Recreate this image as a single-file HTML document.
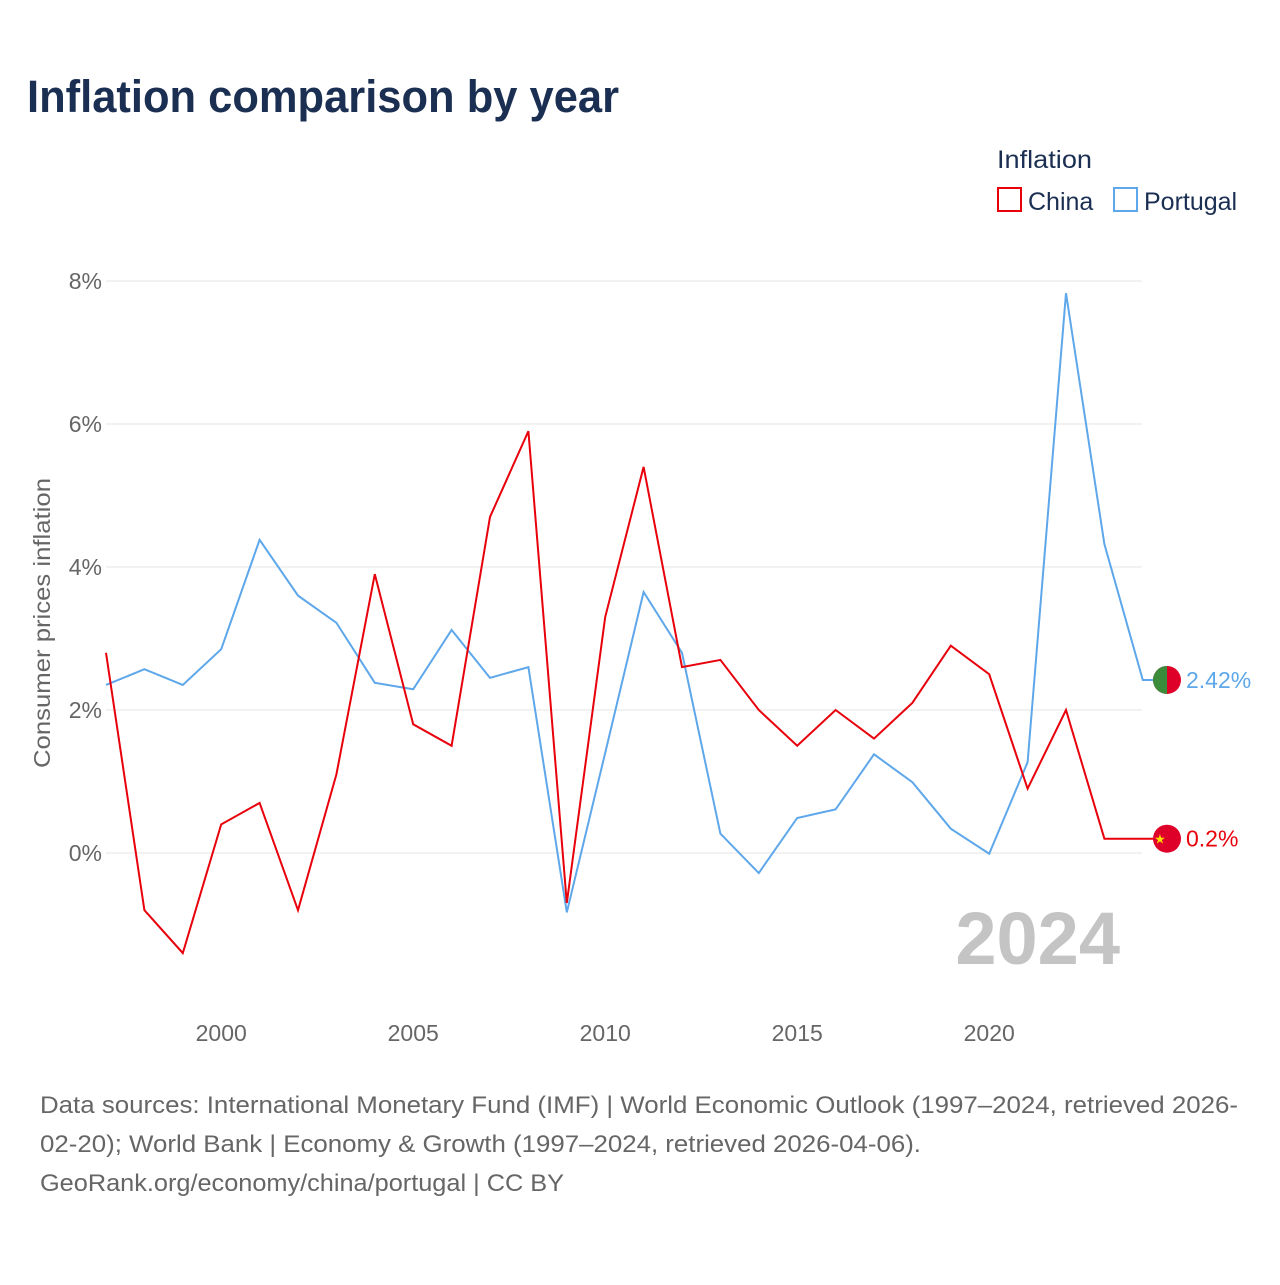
<!DOCTYPE html>
<html><head><meta charset="utf-8"><style>
body{margin:0;width:1280px;height:1280px;background:#fff;font-family:"Liberation Sans",sans-serif;overflow:hidden}
</style></head><body>
<svg width="1280" height="1280" xmlns="http://www.w3.org/2000/svg">
<text x="27" y="112" font-size="45" font-weight="bold" fill="#1a2f52" textLength="592" lengthAdjust="spacingAndGlyphs">Inflation comparison by year</text>
<text x="997" y="168" font-size="25" fill="#1a2f52" textLength="95" lengthAdjust="spacingAndGlyphs">Inflation</text>
<g><rect x="998" y="188" width="23" height="23" fill="none" stroke="#e8000b" stroke-width="2"/><text x="1028" y="210" font-size="25" fill="#1a2f52">China</text></g>
<g><rect x="1114" y="188" width="23" height="23" fill="none" stroke="#5da7ea" stroke-width="2"/><text x="1144" y="210" font-size="25" fill="#1a2f52">Portugal</text></g>
<g id="grid"></g><g id="yt"></g><g id="xt"></g>
<text transform="translate(50,623) rotate(-90)" text-anchor="middle" font-size="23" fill="#666" textLength="290" lengthAdjust="spacingAndGlyphs">Consumer prices inflation</text>
<text x="1120" y="964" text-anchor="end" font-size="74" font-weight="bold" fill="#c4c4c4">2024</text>
<g id="series"></g>
<g font-size="24" fill="#666">
<text x="40" y="1113" textLength="1198" lengthAdjust="spacingAndGlyphs">Data sources: International Monetary Fund (IMF) | World Economic Outlook (1997–2024, retrieved 2026-</text>
<text x="40" y="1152" textLength="881" lengthAdjust="spacingAndGlyphs">02-20); World Bank | Economy &amp; Growth (1997–2024, retrieved 2026-04-06).</text>
<text x="40" y="1191" textLength="524" lengthAdjust="spacingAndGlyphs">GeoRank.org/economy/china/portugal | CC BY</text>
</g>
</svg>
<script>
const years=[1997,1998,1999,2000,2001,2002,2003,2004,2005,2006,2007,2008,2009,2010,2011,2012,2013,2014,2015,2016,2017,2018,2019,2020,2021,2022,2023,2024];
const china=[2.8,-0.8,-1.4,0.4,0.7,-0.8,1.1,3.9,1.8,1.5,4.7,5.9,-0.7,3.3,5.4,2.6,2.7,2.0,1.5,2.0,1.6,2.1,2.9,2.5,0.9,2.0,0.2,0.2];
const portugal=[2.35,2.57,2.35,2.85,4.38,3.6,3.22,2.38,2.29,3.12,2.45,2.6,-0.83,1.4,3.65,2.8,0.27,-0.28,0.49,0.61,1.38,0.99,0.34,-0.01,1.27,7.83,4.32,2.42];
const yTicks=[0,2,4,6,8];
const xTicks=[2000,2005,2010,2015,2020];
const NS="http://www.w3.org/2000/svg";
const xS=y=>106+(y-1997)*38.4;
const yS=v=>853-v*71.5;
function mk(t,a,p){const e=document.createElementNS(NS,t);for(const k in a)e.setAttribute(k,a[k]);p.appendChild(e);return e;}
const g=document.getElementById('grid'),yt=document.getElementById('yt'),xt=document.getElementById('xt'),s=document.getElementById('series');
yTicks.forEach(v=>{
 const l=mk('line',{x1:106,x2:1142,y1:yS(v),y2:yS(v),stroke:'#e6e6e6','stroke-width':1},g);
 
 
 const t=mk('text',{x:102,y:yS(v)+8,'text-anchor':'end','font-size':23,fill:'#666'},yt);t.textContent=v+'%';
 
 
});
xTicks.forEach(v=>{
 const t=mk('text',{x:xS(v),y:1041,'text-anchor':'middle','font-size':23,fill:'#666'},xt);t.textContent=v;
 
 
});
function series(vals,col,name,label){
 let d=vals.map((v,i)=>(i?'L':'M')+xS(years[i])+','+yS(v)).join(' ');
 const last=vals[vals.length-1];
 d+=' L1155,'+yS(last);
 const p=mk('path',{d:d,fill:'none',stroke:col,'stroke-width':2},s);
 
 
 const c=mk('circle',{cx:1167,cy:yS(last),r:14,fill:'#de0029'},s);
 
 
 if(name==='portugal'){const h=mk('path',{d:`M1167,${yS(last)-14} A14,14 0 0 0 1167,${yS(last)+14} Z`,fill:'#3a8c3a'},s);}
 else{const st=mk('text',{x:1160,y:yS(last)+5,'font-size':13,fill:'#ffde00','text-anchor':'middle'},s);st.textContent='★';}
 const t=mk('text',{x:1186,y:yS(last)+8,'font-size':23,fill:col},s);t.textContent=label;
 
 
}
series(portugal,'#5da7ea','portugal','2.42%');
series(china,'#e8000b','china','0.2%');
</script>
</body></html>
